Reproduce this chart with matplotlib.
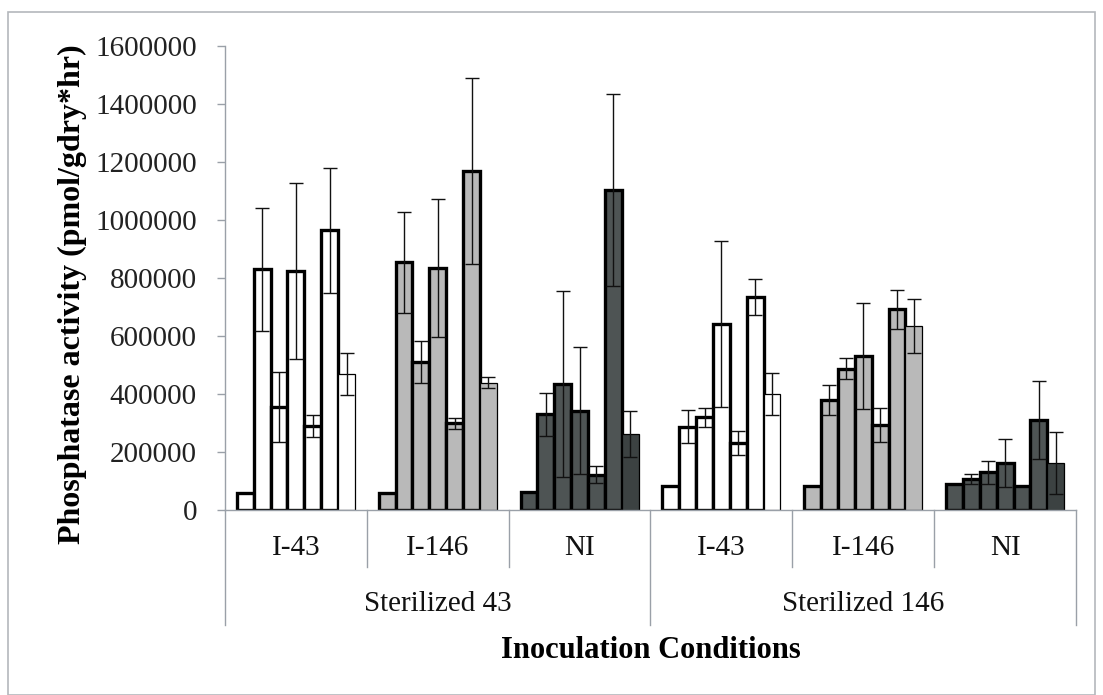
import matplotlib
matplotlib.use("Agg")
import matplotlib.pyplot as plt
import matplotlib.transforms as mtransforms
from matplotlib.patches import Rectangle
import numpy as np

# ---- data ----
inoculants = ["I-43", "I-146", "NI", "I-43", "I-146", "NI"]
sterilized = ["Sterilized 43", "Sterilized 146"]
means = [
    [60000, 830000, 356000, 824000, 290000, 965000, 470000],
    [60000, 854000, 511000, 833000, 299000, 1168000, 439000],
    [61000, 330000, 435000, 343000, 122000, 1103000, 262000],
    [83000, 287000, 320000, 641000, 232000, 733000, 400000],
    [84000, 379000, 487000, 531000, 293000, 692000, 634000],
    [89000, 106000, 130000, 163000, 84000, 310000, 161000],
]
errors = [
    [0, 212000, 120000, 305000, 38000, 215000, 72000],
    [0, 174000, 73000, 238000, 19000, 320000, 18000],
    [0, 74000, 320000, 220000, 30000, 330000, 80000],
    [0, 57000, 33000, 285000, 42000, 62000, 72000],
    [0, 52000, 36000, 182000, 60000, 67000, 94000],
    [0, 18000, 40000, 82000, 0, 135000, 107000],
]
yticks = [0, 200000, 400000, 600000, 800000, 1000000, 1200000, 1400000, 1600000]

fills = ["#ffffff", "#b9b9b9", "#4e5454", "#ffffff", "#b9b9b9", "#4e5454"]
last_fills = ["#ffffff", "#b9b9b9", "#3c4242", "#ffffff", "#b9b9b9", "#3c4242"]

plt.rcParams['font.family'] = ['Liberation Serif', 'DejaVu Serif']

W, H = 1103, 695
fig = plt.figure(figsize=(W / 100, H / 100), dpi=100)
fig.patch.set_facecolor("white")
fig.patches.append(Rectangle((8 / W, 0), (1095 - 8) / W, 1 - 12 / H,
                             transform=fig.transFigure, fill=False,
                             edgecolor="#b4b8bc", linewidth=1.2))

ax_l, ax_r, ax_t, ax_b = 225, 1076, 46, 510
ax = fig.add_axes([ax_l / W, 1 - ax_b / H, (ax_r - ax_l) / W, (ax_b - ax_t) / H])

bw = 0.119
for g in range(6):
    for j in range(7):
        x = g + (j - 3) * bw
        fc = last_fills[g] if j == 6 else fills[g]
        lw = 0.9 if j == 6 else 2.4
        ax.bar(x, means[g][j], width=bw, color=fc, edgecolor="black",
               linewidth=lw, zorder=2)
        if errors[g][j] > 0:
            ax.errorbar(x, means[g][j], yerr=errors[g][j], fmt="none",
                        ecolor="#111111", elinewidth=1.0, capsize=5.3,
                        capthick=1.0, zorder=3)

ax.set_xlim(-0.5, 5.5)
ax.set_ylim(0, 1600000)
ax.set_yticks(yticks)
ax.set_yticklabels([str(v) for v in yticks], fontsize=21, color="#222222")
ax.tick_params(axis="y", direction="out", length=5.8, width=1, color="#9aa0a8", pad=14.4)
ax.set_xticks([])
for s in ["top", "right"]:
    ax.spines[s].set_visible(False)
for s in ["left", "bottom"]:
    ax.spines[s].set_color("#9aa0a8")
    ax.spines[s].set_linewidth(1.0)

trans = mtransforms.blended_transform_factory(ax.transData, ax.transAxes)
h = ax_b - ax_t
for b in range(7):
    xb = b - 0.5
    low = -115 / h if b in (0, 3, 6) else -57 / h
    ax.plot([xb, xb], [0, low], transform=trans, clip_on=False,
            color="#9aa0a8", linewidth=1.0)
for g in range(6):
    ax.text(g, -38 / h, inoculants[g], transform=trans, ha="center",
            va="center", fontsize=21, color="#111111")
for k in range(2):
    ax.text(1 + 3 * k, -94 / h, sterilized[k], transform=trans, ha="center",
            va="center", fontsize=21, color="#111111")

ax.text(0.5, -140 / h, "Inoculation Conditions", transform=ax.transAxes,
        ha="center", va="center", fontsize=22, fontweight="bold")
ax.text((72 - ax_l) / (ax_r - ax_l), 0.5 - 16 / h,
        "Phosphatase activity (pmol/gdry*hr)", transform=ax.transAxes,
        ha="center", va="center", rotation=90, fontsize=23, fontweight="bold")

fig.savefig("out.png", dpi=100)
